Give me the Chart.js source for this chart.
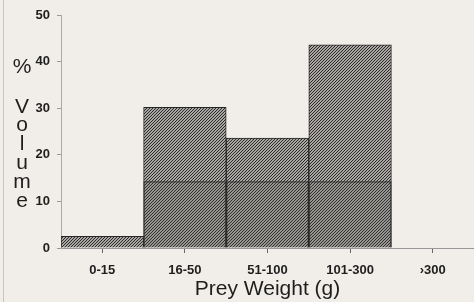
<!DOCTYPE html>
<html>
<head>
<meta charset="utf-8">
<script src="https://cdn.jsdelivr.net/npm/chart.js@4"></script>
<style>
  html, body { margin: 0; padding: 0; background: #f1eee9; }
  #wrap { position: relative; width: 474px; height: 302px; }
  #wrap::before { content: ''; position: absolute; left: 3px; top: 0; bottom: 0; border-left: 1px solid #c9c6c1; }
</style>
</head>
<body>
<div id="wrap"><canvas id="chart" width="474" height="302"></canvas></div>
<script>
const categories = ['0-15', '16-50', '51-100', '101-300', '›300']
const volume = [2.5, 30.2, 23.6, 43.6, 0]
const lowerShade = [0, 14.3, 14.3, 14.3, 0]
const yTicks = [0, 10, 20, 30, 40, 50]
const yLetters = ['%', 'V', 'o', 'l', 'u', 'm', 'e']

function hatch(bg, line) {
  const c = document.createElement('canvas')
  c.width = 3
  c.height = 3
  const g = c.getContext('2d')
  g.fillStyle = bg
  g.fillRect(0, 0, 3, 3)
  g.fillStyle = line
  // one diagonal "/" pixel run per tile
  g.fillRect(0, 2, 1, 1)
  g.fillRect(1, 1, 1, 1)
  g.fillRect(2, 0, 1, 1)
  return g.createPattern(c, 'repeat')
}

// stacked vertical label on the left
const yLabel = {
  id: 'yLabel',
  afterDraw(chart) {
    const ctx = chart.ctx
    ctx.save()
    ctx.fillStyle = '#1e1e1e'
    ctx.font = '21px "Liberation Sans", Arial, sans-serif'
    ctx.textAlign = 'center'
    ctx.textBaseline = 'middle'
    const ys = [67, 107, 125, 144, 163, 182, 201]
    yLetters.forEach((l, i) => ctx.fillText(l, 22, ys[i]))
    ctx.restore()
  }
}

const tickFont = { family: '"Liberation Sans", Arial, sans-serif', size: 13, weight: 'bold' }

const ctx = document.getElementById('chart').getContext('2d')
new Chart(ctx, {
  type: 'bar',
  data: {
    labels: categories,
    datasets: [{
      label: 'shade',
      data: lowerShade,
      backgroundColor: 'rgba(70, 70, 70, 0.18)',
      borderColor: 'rgba(40, 40, 40, 0.55)',
      borderWidth: 1,
      categoryPercentage: 1,
      barPercentage: 1,
      order: 0
    }, {
      label: '% Volume',
      data: volume,
      backgroundColor: hatch('#a9a7a3', '#2c2b2a'),
      borderColor: '#262626',
      borderWidth: 1,
      categoryPercentage: 1,
      barPercentage: 1,
      order: 1
    }]
  },
  options: {
    responsive: false,
    animation: false,
    datasets: { bar: { grouped: false } },
    layout: { padding: { top: 15, right: 0, left: 0, bottom: 0 } },
    plugins: { legend: { display: false }, tooltip: { enabled: false } },
    scales: {
      x: {
        grid: { display: true, drawOnChartArea: false, offset: false, tickLength: 5, color: '#666' },
        border: { color: '#999', width: 1 },
        ticks: { color: '#1e1e1e', padding: 10, font: tickFont },
        title: {
          display: true,
          text: 'Prey Weight (g)',
          color: '#1e1e1e',
          padding: { top: 2, bottom: 0 },
          font: { family: '"Liberation Sans", Arial, sans-serif', size: 21 }
        },
        afterFit: (s) => { s.height = 54 }
      },
      y: {
        min: 0,
        max: 50,
        afterBuildTicks: (s) => { s.ticks = yTicks.map(v => ({ value: v })) },
        grid: { display: true, drawOnChartArea: false, tickLength: 4, color: '#999' },
        border: { color: '#aaa', width: 1 },
        ticks: { color: '#1e1e1e', padding: 7, font: tickFont },
        afterFit: (s) => { s.width = 61 }
      }
    }
  },
  plugins: [yLabel]
})
</script>
</body>
</html>
